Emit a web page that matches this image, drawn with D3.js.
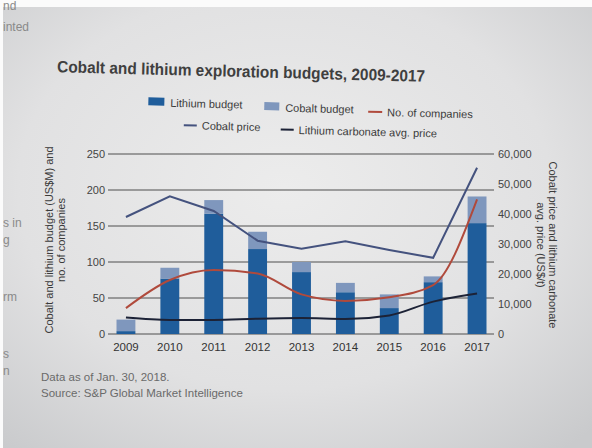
<!DOCTYPE html>
<html>
<head>
<meta charset="utf-8">
<script src="https://cdn.jsdelivr.net/npm/d3@7"></script>
<style>
  html, body { margin: 0; padding: 0; background: #fff; }
  svg { display: block; font-family: "Liberation Sans", Arial, sans-serif; }
</style>
</head>
<body>
<svg id="chart" width="592" height="448"></svg>
<script>
// values
let years = ["2009", "2010", "2011", "2012", "2013", "2014", "2015", "2016", "2017"];
let lithiumBudget = [4, 77, 167, 118, 86, 58, 36, 72, 154];
let cobaltBudget = [16, 15, 19, 24, 14, 13, 19, 8, 37];
let companies = [36, 75, 89, 84, 55, 46, 51, 68, 187];
let cobaltPrice = [39000, 45900, 41000, 31100, 28400, 30900, 28000, 25400, 55400];
let lithiumPrice = [5500, 4700, 4700, 5100, 5300, 5000, 6200, 10800, 13500];
let leftTicks = [0, 50, 100, 150, 200, 250];
let rightTicks = [0, 10000, 20000, 30000, 40000, 50000, 60000];

let colors = {
    lithium: "#1f5d9b",
    cobalt: "#7f97bd",
    companies: "#b04a3c",
    cobaltPrice: "#44527e",
    lithiumPrice: "#1c2236"
};

let svg = d3.select("#chart");
let width = 592;
let height = 448;

// paper background, lit in the middle
let defs = svg.append("defs");
let grad = defs.append("radialGradient")
    .attr("id", "paper")
    .attr("cx", "48%").attr("cy", "42%").attr("r", "75%");
grad.append("stop").attr("offset", "0%").attr("stop-color", "#ececec");
grad.append("stop").attr("offset", "60%").attr("stop-color", "#e1e1e2");
grad.append("stop").attr("offset", "100%").attr("stop-color", "#c9cacc");

svg.append("rect").attr("width", width).attr("height", height).attr("fill", "url(#paper)");
svg.append("rect").attr("width", width).attr("height", 7).attr("fill", "#fbfbfb");
svg.append("rect").attr("width", 3).attr("height", height).attr("fill", "#fbfbfb");

// bits of the facing page
let stray = [["nd", 10], ["inted", 31], ["s in", 227], ["g", 244], ["rm", 301], ["s", 358], ["n", 375]];
svg.append("g")
    .selectAll("text")
    .data(stray)
    .join("text")
        .attr("x", 3)
        .attr("y", d => d[1])
        .attr("font-size", 12)
        .attr("fill", "#8a8a8a")
        .text(d => d[0]);

// title
svg.append("text")
    .attr("x", 57).attr("y", 77)
    .attr("transform", "rotate(1.5 241 77)")
    .attr("font-size", 16.5)
    .attr("font-weight", "bold")
    .attr("fill", "#3f3f3f")
    .attr("textLength", 368)
    .attr("lengthAdjust", "spacingAndGlyphs")
    .text("Cobalt and lithium exploration budgets, 2009-2017");

// legend
let legend = svg.append("g")
    .attr("transform", "rotate(1.4 300 118)")
    .attr("font-size", 11)
    .attr("fill", "#3a3a3a");

let legendItems = [
    {label: "Lithium budget", type: "box", color: colors.lithium, x: 148, y: 110, w: 16},
    {label: "Cobalt budget", type: "box", color: colors.cobalt, x: 264, y: 112, w: 15},
    {label: "No. of companies", type: "line", color: colors.companies, x: 368, y: 114, w: 14},
    {label: "Cobalt price", type: "line", color: colors.cobaltPrice, x: 184, y: 132, w: 13},
    {label: "Lithium carbonate avg. price", type: "line", color: colors.lithiumPrice, x: 281, y: 134, w: 13}
];

legendItems.forEach(function(d) {
    if (d.type == "box") {
        legend.append("rect")
            .attr("x", d.x).attr("y", d.y - 9)
            .attr("width", d.w).attr("height", 8)
            .attr("fill", d.color);
    } else {
        legend.append("line")
            .attr("x1", d.x).attr("x2", d.x + d.w)
            .attr("y1", d.y - 4).attr("y2", d.y - 4)
            .attr("stroke", d.color).attr("stroke-width", 2);
    }
    legend.append("text")
        .attr("x", d.x + d.w + (d.type == "box" ? 6 : 5))
        .attr("y", d.y)
        .text(d.label);
});

// scales
let x = d3.scaleBand()
    .domain(years)
    .range([104, 499])
    .paddingInner(0.57)
    .paddingOuter(0.285);

let yLeft = d3.scaleLinear().domain([0, 250]).range([334, 154]);
let yRight = d3.scaleLinear().domain([0, 60000]).range([334, 154]);

let plot = svg.append("g");

// gridlines
plot.append("g")
    .selectAll("line")
    .data(leftTicks)
    .join("line")
        .attr("x1", 108).attr("x2", 494)
        .attr("y1", d => yLeft(d)).attr("y2", d => yLeft(d))
        .attr("stroke", "#4f4f4f")
        .attr("stroke-width", 1);

// left axis labels
plot.append("g")
    .selectAll("text")
    .data(leftTicks)
    .join("text")
        .attr("x", 105)
        .attr("y", d => yLeft(d))
        .attr("dy", "0.35em")
        .attr("text-anchor", "end")
        .attr("font-size", 11)
        .attr("fill", "#444")
        .text(d => d);

// right axis labels
plot.append("g")
    .selectAll("text")
    .data(rightTicks)
    .join("text")
        .attr("x", 498)
        .attr("y", d => yRight(d))
        .attr("dy", "0.35em")
        .attr("font-size", 11)
        .attr("fill", "#444")
        .text(d => d3.format(",")(d));

// stacked bars
let barData = years.map((yr, i) => ({year: yr, lithium: lithiumBudget[i], cobalt: cobaltBudget[i]}));
let stack = d3.stack().keys(["lithium", "cobalt"])(barData);

plot.append("g")
    .selectAll("g")
    .data(stack)
    .join("g")
        .attr("fill", d => colors[d.key])
    .selectAll("rect")
    .data(d => d)
    .join("rect")
        .attr("x", d => x(d.data.year))
        .attr("width", x.bandwidth())
        .attr("y", d => yLeft(d[1]))
        .attr("height", d => yLeft(d[0]) - yLeft(d[1]));

// lines
let cx = d => x(d) + x.bandwidth() / 2;

let lineLithium = d3.line()
    .x((d, i) => cx(years[i]))
    .y(d => yRight(d))
    .curve(d3.curveMonotoneX);
let lineCobalt = d3.line()
    .x((d, i) => cx(years[i]))
    .y(d => yRight(d));
let lineCompanies = d3.line()
    .x((d, i) => cx(years[i]))
    .y(d => yLeft(d))
    .curve(d3.curveMonotoneX);

plot.append("path")
    .attr("d", lineLithium(lithiumPrice))
    .attr("fill", "none")
    .attr("stroke", colors.lithiumPrice)
    .attr("stroke-width", 2);

plot.append("path")
    .attr("d", lineCompanies(companies))
    .attr("fill", "none")
    .attr("stroke", colors.companies)
    .attr("stroke-width", 2);

plot.append("path")
    .attr("d", lineCobalt(cobaltPrice))
    .attr("fill", "none")
    .attr("stroke", colors.cobaltPrice)
    .attr("stroke-width", 2);

// x labels
plot.append("g")
    .selectAll("text")
    .data(years)
    .join("text")
        .attr("x", d => cx(d))
        .attr("y", 351)
        .attr("text-anchor", "middle")
        .attr("font-size", 11.5)
        .attr("fill", "#333")
        .text(d => d);

// axis titles
let leftTitle = svg.append("text")
    .attr("transform", "translate(53,240) rotate(-90)")
    .attr("text-anchor", "middle")
    .attr("font-size", 11)
    .attr("fill", "#3a3a3a");
leftTitle.append("tspan").attr("x", 0).attr("y", 0).text("Cobalt and lithium budget (US$M) and");
leftTitle.append("tspan").attr("x", 0).attr("y", 12).text("no. of companies");

let rightTitle = svg.append("text")
    .attr("transform", "translate(549,245) rotate(90)")
    .attr("text-anchor", "middle")
    .attr("font-size", 11)
    .attr("fill", "#3a3a3a");
rightTitle.append("tspan").attr("x", 0).attr("y", 0).text("Cobalt price and lithium carbonate");
rightTitle.append("tspan").attr("x", 0).attr("y", 12).text("avg. price (US$/t)");

// footnotes
let notes = ["Data as of Jan. 30, 2018.", "Source: S&P Global Market Intelligence"];
svg.append("g")
    .selectAll("text")
    .data(notes)
    .join("text")
        .attr("x", 41)
        .attr("y", (d, i) => 381 + i * 16)
        .attr("font-size", 11.5)
        .attr("fill", "#6a6a6a")
        .text(d => d);
</script>
</body>
</html>
